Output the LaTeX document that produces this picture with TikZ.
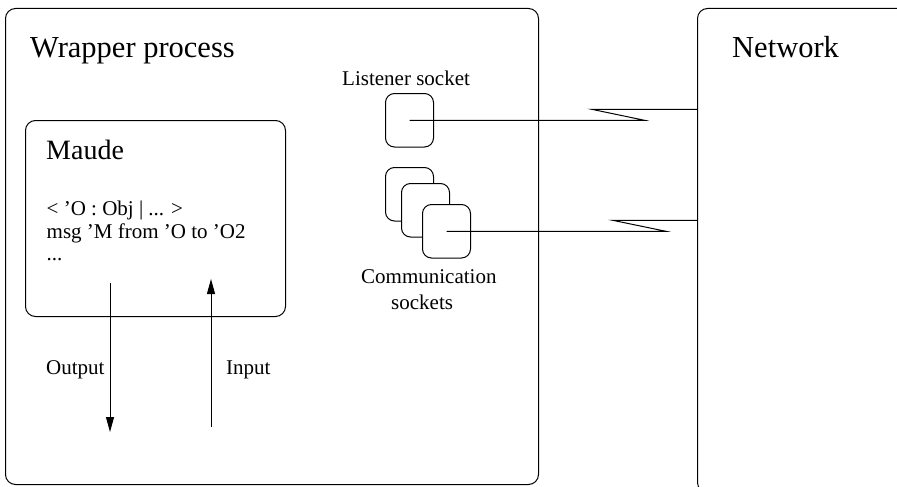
\documentclass[tikz,border=0pt]{standalone}
\usepackage{fontspec}
\setmainfont{Liberation Serif}
\usetikzlibrary{arrows.meta}
\tikzset{
  frame/.style={draw, line width=1pt, inner sep=0pt, anchor=north west, rounded corners=10pt},
  sockbox/.style={draw, fill=white, line width=1pt, inner sep=0pt, anchor=north west, rounded corners=9pt, minimum width=48pt, minimum height=53.5pt},
  conn/.style={line width=1pt},
  arr/.style={line width=1pt, -{Triangle[length=15pt,width=8pt]}},
  big/.style={anchor=base west, inner sep=0pt, font=\fontsize{30.5}{36}\selectfont},
  mid/.style={anchor=base west, inner sep=0pt, font=\fontsize{28}{33}\selectfont},
  lbl/.style={anchor=base west, inner sep=0pt, font=\fontsize{21}{25}\selectfont},
  code/.style={anchor=base west, inner sep=0pt, font=\fontsize{21}{25}\selectfont}
}
\begin{document}
\begin{tikzpicture}[x=1pt,y=-1pt]
\useasboundingbox (0,0) rectangle (897,487);
\clip (0,0) rectangle (897,487);
% main frames
\node[frame, minimum width=533pt, minimum height=476pt] (wrapper) at (5,8) {};
\node[frame, minimum width=250pt, minimum height=484pt] (network) at (697,8) {};
\node[frame, minimum width=260pt, minimum height=196pt] (maude) at (25,120) {};
% titles
\node[big] (wt) at (30,57.5) {Wrapper process};
\node[big] (nt) at (732,57.5) {Network};
\node[mid] (mt) at (46,159) {Maude};
% code text
\node[code] (c1) at (46.5,215) {< ’O : Obj | ... >};
\node[code] (c2) at (46.5,238) {msg ’M from ’O to ’O2};
\node[code] (c3) at (46.5,260) {...};
% sockets
\node[lbl] (lt) at (342,85.5) {Listener socket};
\node[sockbox] (listener) at (385,93) {};
\node[sockbox] (comm1) at (385,167) {};
\node[sockbox] (comm2) at (401,183) {};
\node[sockbox] (comm3) at (422,204) {};
\node[lbl] (ct1) at (361,283) {Communication};
\node[lbl] (ct2) at (391,309) {sockets};
% connectors with zigzag
\coordinate (lz1) at (644.3,0 |- listener.center);
\coordinate (lz2) at (591.7,109.3);
\draw[conn] (listener.center) -- (lz1) -- (lz2) -- (network.west |- lz2);
\coordinate (cz1) at (665.7,0 |- comm3.center);
\coordinate (cz2) at (612.7,220.3);
\draw[conn] (comm3.center) -- (cz1) -- (cz2) -- (network.west |- cz2);
% output / input arrows
\coordinate (outS) at (110,283);
\coordinate (outE) at (110,432);
\coordinate (inS) at (211,427);
\coordinate (inE) at (211,279);
\draw[arr] (outS) -- (outE);
\draw[arr] (inS) -- (inE);
\node[lbl] (ot) at (46,374) {Output};
\node[lbl] (it) at (226,374) {Input};
\end{tikzpicture}
\end{document}
